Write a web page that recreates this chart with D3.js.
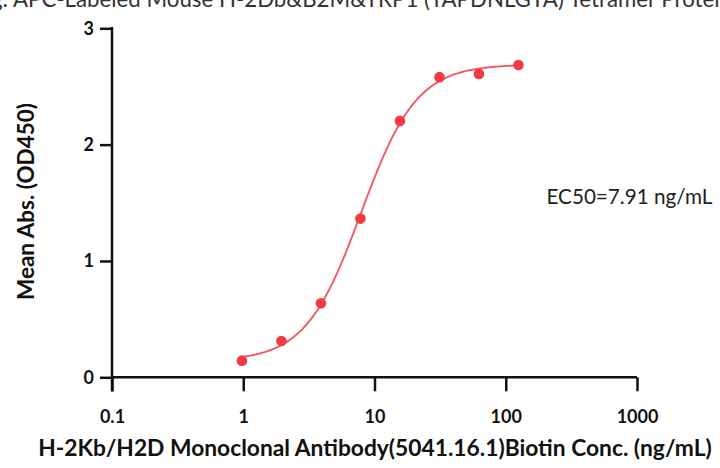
<!DOCTYPE html>
<html><head><meta charset="utf-8">
<script src="https://cdn.jsdelivr.net/npm/d3@7"></script>
<style>body{margin:0;background:#fff}svg{display:block}text{font-family:Lato,"Open Sans",sans-serif}</style>
</head><body><svg id="c" width="720" height="468"></svg>
<script>
const conc = [0.977, 1.953, 3.906, 7.813, 15.625, 31.25, 62.5, 125];
const od = [0.143, 0.312, 0.636, 1.364, 2.204, 2.580, 2.608, 2.685];
const fitParams = [0.14, 2.69, 7.91, 2.05]; // bottom, top, EC50, hill
const xTicks = [0.1, 1, 10, 100, 1000];
const yTicks = [0, 1, 2, 3];
const titleText = "Binding: APC-Labeled Mouse H-2Db&B2M&TRP1 (TAPDNLGYA) Tetramer Protein";
const xTitle = "H-2Kb/H2D Monoclonal Antibody(5041.16.1)Biotin Conc. (ng/mL)";
const yTitle = "Mean Abs. (OD450)";
const ecText = "EC50=7.91 ng/mL";

const svg = d3.select("#c");
const x = d3.scaleLog().domain([0.1, 1000]).range([112, 637]);
const y = d3.scaleLinear().domain([0, 3]).range([377.3, 28.3]);

function fitWidth(sel, w) {
  const cur = sel.node().getComputedTextLength();
  const fs = parseFloat(sel.style("font-size"));
  sel.style("font-size", (fs * w / cur) + "px");
}

// cut-off title at the top
const t = svg.append("text").attr("y", 7).style("font-size", "19px").style("fill", "#333").text(titleText);
{
  const pre = t.node().getSubStringLength(0, titleText.indexOf("APC"));
  const full = t.node().getComputedTextLength();
  const seg = full - pre - t.node().getSubStringLength(titleText.length - 1, 1);
  // "APC ... Protei" should span 13 -> 720
  const k = 707 / seg;
  t.style("font-size", (19 * k) + "px");
  const pre2 = t.node().getSubStringLength(0, titleText.indexOf("APC"));
  t.attr("x", 13 - pre2);
}

// axes
const gx = svg.append("g").attr("transform", "translate(0,377.3)")
  .call(d3.axisBottom(x).tickValues(xTicks).tickFormat(d => String(d)).tickSize(14).tickPadding(19));
gx.select(".domain").remove();
gx.selectAll(".tick line").attr("stroke", "#111").attr("stroke-width", 2.5);
gx.selectAll(".tick text").attr("fill", "#111").style("font-size", "18px").style("font-weight", "bold")
  .style("font-family", "Lato, sans-serif");

const gy = svg.append("g").attr("transform", "translate(112,0)")
  .call(d3.axisLeft(y).tickValues(yTicks).tickFormat(d3.format("d")).tickSize(12).tickPadding(6));
gy.select(".domain").remove();
gy.selectAll(".tick line").attr("stroke", "#111").attr("stroke-width", 2.5);
gy.selectAll(".tick text").attr("fill", "#111").style("font-size", "18px").style("font-weight", "bold")
  .style("font-family", "Lato, sans-serif");

svg.append("line").attr("x1", x(0.1)).attr("x2", x(1000)).attr("y1", y(0)).attr("y2", y(0))
  .attr("stroke", "#111").attr("stroke-width", 2.5);
svg.append("line").attr("x1", 112).attr("x2", 112).attr("y1", y(3) - 1.2).attr("y2", 391.5)
  .attr("stroke", "#111").attr("stroke-width", 2.5);

// fitted curve
const [B, T, E, H] = fitParams;
const f = c => B + (T - B) / (1 + Math.pow(E / c, H));
const lx = d3.scaleLinear().domain([0, 200]).range([Math.log10(conc[0]), Math.log10(conc[conc.length - 1])]);
const curve = d3.range(201).map(i => { const c = Math.pow(10, lx(i)); return [c, f(c)]; });
svg.append("path").datum(curve)
  .attr("d", d3.line().x(d => x(d[0])).y(d => y(d[1])))
  .attr("fill", "none").attr("stroke", "#f2525a").attr("stroke-width", 1.8);

svg.selectAll("circle.pt").data(conc).join("circle").attr("class", "pt")
  .attr("cx", d => x(d)).attr("cy", (d, i) => y(od[i])).attr("r", 5.3).attr("fill", "#f23a43");

// titles
const xt = svg.append("text").attr("x", 375).attr("y", 456).attr("text-anchor", "middle")
  .style("font-size", "18px").style("font-weight", "bold").attr("fill", "#111").text(xTitle);
fitWidth(xt, 674);
const yt = svg.append("text").attr("transform", "translate(34,201.5) rotate(-90)").attr("text-anchor", "middle")
  .style("font-size", "17px").style("font-weight", "bold").attr("fill", "#111").text(yTitle);
fitWidth(yt, 197);
const ec = svg.append("text").attr("x", 546.5).attr("y", 204)
  .style("font-size", "18px").attr("fill", "#222").text(ecText);
fitWidth(ec, 166);
</script></body></html>
